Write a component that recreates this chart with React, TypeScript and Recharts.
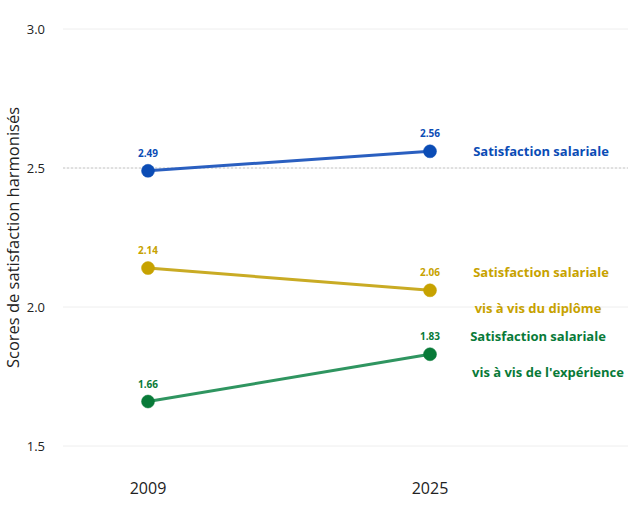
import React from "react";
import { LineChart, Line, XAxis, YAxis, CartesianGrid, ReferenceLine, LabelList } from "recharts";

const years = ["2009", "2025"];
const salaire = [2.49, 2.56];
const diplome = [2.14, 2.06];
const experience = [1.66, 1.83];
const yTicks = [1.5, 2.0, 2.5, 3.0];

const data = years.map((y, i) => ({ year: y, salaire: salaire[i], diplome: diplome[i], experience: experience[i] }));

const FONT = "'Open Sans', sans-serif";

const series = [
  { key: "salaire", line: "#2a5fc0", dot: "#0b4cb5", label: "#0b4cb5", names: ["Satisfaction salariale"], nameX: [111], nameDy: [0] },
  { key: "diplome", line: "#c9ab24", dot: "#c7a200", label: "#c7a200", names: ["Satisfaction salariale", "vis à vis du diplôme"], nameX: [111, 108], nameDy: [-18, 18] },
  { key: "experience", line: "#2f9560", dot: "#087a38", label: "#087a38", names: ["Satisfaction salariale", "vis à vis de l'expérience"], nameX: [108, 118], nameDy: [-18, 18] },
];

const makeValueLabel = (color: string) => (props: any) => {
  const { x, y, value } = props;
  return (
    <text x={x} y={y - 14} textAnchor="middle" fill={color} fontSize={10} fontWeight={700} fontFamily={FONT}>
      {Number(value).toFixed(2)}
    </text>
  );
};

const makeNameLabel = (s: any) => (props: any) => {
  const { x, y, index } = props;
  if (index !== years.length - 1) return null;
  return (
    <g>
      {s.names.map((n: string, i: number) => (
        <text key={i} x={x + s.nameX[i]} y={y + s.nameDy[i]} dy="0.35em" textAnchor="middle" fill={s.label} fontSize={13} fontWeight={700} fontFamily={FONT}>
          {n}
        </text>
      ))}
    </g>
  );
};

export default function App() {
  return (
    <div style={{ position: "absolute", left: 0, top: 0, background: "#fff" }}>
      <LineChart width={636} height={508} data={data} margin={{ top: 29, right: 8, bottom: 2, left: 0 }}>
        <CartesianGrid horizontal vertical={false} stroke="#eeeeee" strokeDasharray="" />
        <ReferenceLine y={2.5} stroke="#c8c8c8" strokeDasharray="2 2" strokeWidth={1} />
        <XAxis
          dataKey="year"
          axisLine={false}
          tickLine={false}
          tickSize={0}
          tickMargin={37}
          height={60}
          padding={{ left: 85, right: 198 }}
          tick={{ fontSize: 16, fill: "#222", fontFamily: FONT }}
        />
        <YAxis
          domain={[1.5, 3.0]}
          ticks={yTicks}
          tickFormatter={(v: number) => v.toFixed(1)}
          axisLine={false}
          tickLine={false}
          tickSize={0}
          tickMargin={18}
          width={63}
          tick={{ fontSize: 13, fill: "#222", fontFamily: FONT }}
          label={{ value: "Scores de satisfaction harmonisés", angle: -90, position: "insideLeft", dx: 8, style: { textAnchor: "middle", fontSize: 16.5, fill: "#222", fontFamily: FONT } }}
        />
        {series.map((s) => (
          <Line
            key={s.key}
            dataKey={s.key}
            stroke={s.line}
            strokeWidth={3}
            dot={{ r: 6.5, fill: s.dot, stroke: s.dot, strokeWidth: 0.5 }}
            activeDot={false}
            isAnimationActive={false}
          >
            <LabelList dataKey={s.key} content={makeValueLabel(s.label)} />
            <LabelList dataKey={s.key} content={makeNameLabel(s)} />
          </Line>
        ))}
      </LineChart>
    </div>
  );
}
